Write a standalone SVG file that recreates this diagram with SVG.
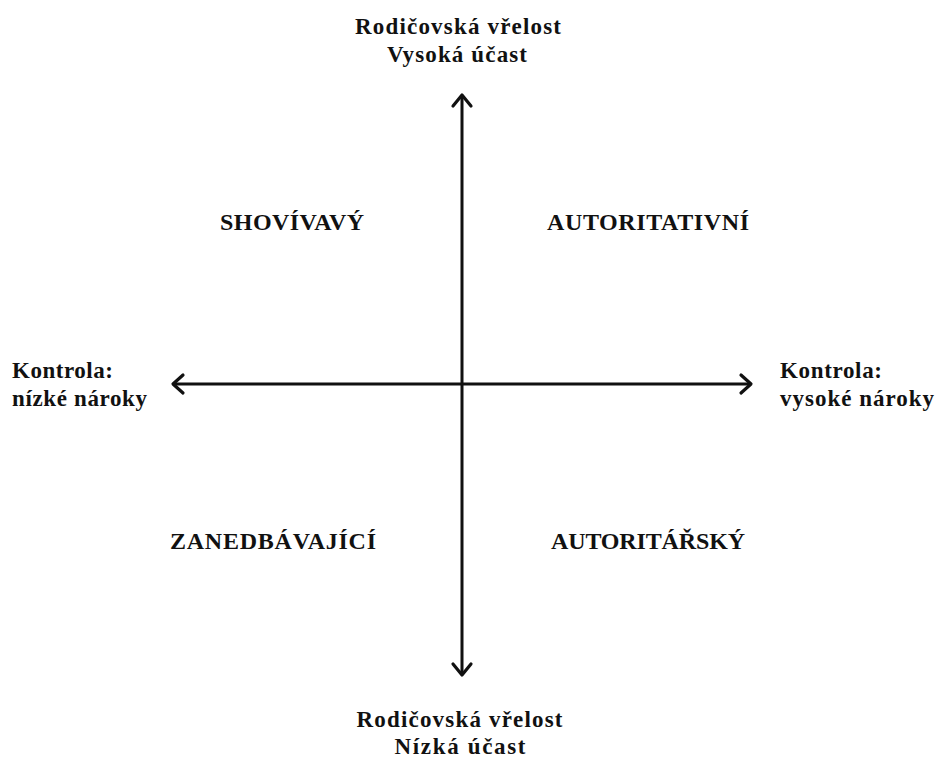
<svg xmlns="http://www.w3.org/2000/svg" width="937" height="758" viewBox="0 0 937 758">
<style>
text{font-family:"Liberation Serif","Times New Roman",serif;font-weight:bold;font-size:23px;fill:#111}
.c{text-anchor:middle}
.q{font-size:24px}
.ax{stroke:#111;stroke-width:3;fill:none}
.hd{stroke:#111;stroke-width:3.2;fill:none;stroke-linecap:round;stroke-linejoin:round}
</style>
<rect width="937" height="758" fill="#fff"/>
<g id="connectors">
<line class="ax" x1="462" y1="96" x2="462" y2="674"/>
<line class="ax" x1="173" y1="384" x2="751" y2="384"/>
<polyline class="hd" points="453,106 462,95 471,106"/>
<polyline class="hd" points="453,664 462,675 471,664"/>
<polyline class="hd" points="183,375 173,384 183,393"/>
<polyline class="hd" points="741,375 751,384 741,393"/>
</g>
<g id="top"><text class="c" x="458" y="34" textLength="206" lengthAdjust="spacing">Rodičovská vřelost</text><text class="c" x="457" y="62" textLength="140" lengthAdjust="spacing">Vysoká účast</text></g>
<g id="bottom"><text class="c" x="459.5" y="727" textLength="206" lengthAdjust="spacing">Rodičovská vřelost</text><text class="c" x="460" y="754" textLength="131" lengthAdjust="spacing">Nízká účast</text></g>
<g id="left"><text x="12" y="378" textLength="101" lengthAdjust="spacing">Kontrola:</text><text x="12" y="406" textLength="135" lengthAdjust="spacing">nízké nároky</text></g>
<g id="right"><text x="780" y="378" textLength="102" lengthAdjust="spacing">Kontrola:</text><text x="780" y="406" textLength="154" lengthAdjust="spacing">vysoké nároky</text></g>
<g id="q1"><text class="c q" x="292" y="230" textLength="144" lengthAdjust="spacing">SHOVÍVAVÝ</text></g>
<g id="q2"><text class="c q" x="648" y="230" textLength="202" lengthAdjust="spacing">AUTORITATIVNÍ</text></g>
<g id="q3"><text class="c q" x="273" y="549" textLength="206" lengthAdjust="spacing">ZANEDBÁVAJÍCÍ</text></g>
<g id="q4"><text class="c q" x="648" y="549" textLength="194" lengthAdjust="spacing">AUTORITÁŘSKÝ</text></g>
</svg>
